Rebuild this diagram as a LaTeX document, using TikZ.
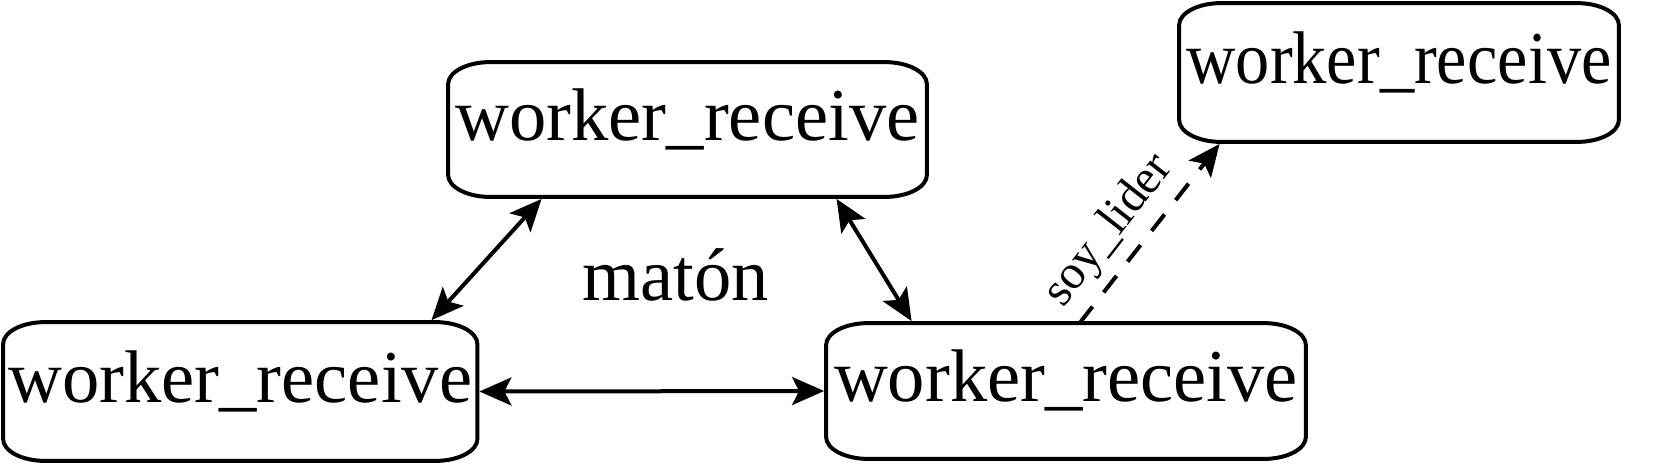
\documentclass[tikz,border=0pt]{standalone}
\usepackage{fontspec}
\usepackage{graphicx}
\setmainfont{Liberation Serif}
\usetikzlibrary{arrows.meta,calc}
\def\ellrx{21pt}
\def\ellry{11pt}
\newcommand\ellframe[1]{%
 \draw[boxline] ([xshift=\ellrx]#1.north west) -- ([xshift=-\ellrx]#1.north east)
   arc[start angle=90,end angle=0,x radius=\ellrx,y radius=\ellry]
   -- ([yshift=\ellry]#1.south east)
   arc[start angle=0,end angle=-90,x radius=\ellrx,y radius=\ellry]
   -- ([xshift=\ellrx]#1.south west)
   arc[start angle=270,end angle=180,x radius=\ellrx,y radius=\ellry]
   -- ([yshift=-\ellry]#1.north west)
   arc[start angle=180,end angle=90,x radius=\ellrx,y radius=\ellry] -- cycle;}
\tikzset{
  boxline/.style={line width=2pt},
  wbox/.style={rectangle, inner sep=0pt, text height=25pt, text depth=14.5pt,
    font=\fontsize{37.3}{40}\selectfont},
  conn/.style={line width=2pt, {Stealth[length=16pt,width=14pt,inset=3.5pt]}-{Stealth[length=16pt,width=14pt,inset=3.5pt]}},
  dconn/.style={line width=2pt, dash pattern=on 10.5pt off 9pt, -{Stealth[length=16pt,width=14pt,inset=3.5pt]}},
  bigtext/.style={font=\fontsize{37.3}{40}\selectfont, inner sep=0pt},
  smalltext/.style={font=\fontsize{24}{26}\selectfont}
}
\begin{document}
\begin{tikzpicture}[x=0.5pt,y=-0.5pt]
\useasboundingbox (0,0) rectangle (1667,463);
\node[wbox, minimum width=236.75pt, minimum height=69pt] (L) at (240.25,391.5) {worker\_receive};
\node[wbox, minimum width=239pt, minimum height=67pt] (T) at (687.5,129.5) {worker\_receive};
\node[wbox, minimum width=239.5pt, minimum height=67.5pt] (R) at (1066,391) {worker\_receive};
\node[wbox, minimum width=219.5pt, minimum height=69pt] (TR) at (1399,72.5) {\scalebox{0.916}[1]{worker\_receive}};
\foreach \n in {L,T,R,TR} {\ellframe{\n}}
\node[bigtext, anchor=base] (M) at (675.5,300) {matón};
\draw[conn] ($(T.south west)+(93.5,2)$) -- ($(L.north west)+(428.5,-2)$);
\draw[conn] ($(T.south west)+(388.5,2)$) -- ($(R.north west)+(85.5,-2)$);
\draw[conn] ($(L.east)+(2,0)$) -- ($(R.west)+(-2,0)$);
\draw[dconn] ($(R.north west)+(253.5,0)$) -- ($(TR.south west)+(40.5,2)$)
  node[pos=0.4, sloped, above, smalltext, inner sep=4.7pt] (S) {soy\_lider};
\end{tikzpicture}
\end{document}
